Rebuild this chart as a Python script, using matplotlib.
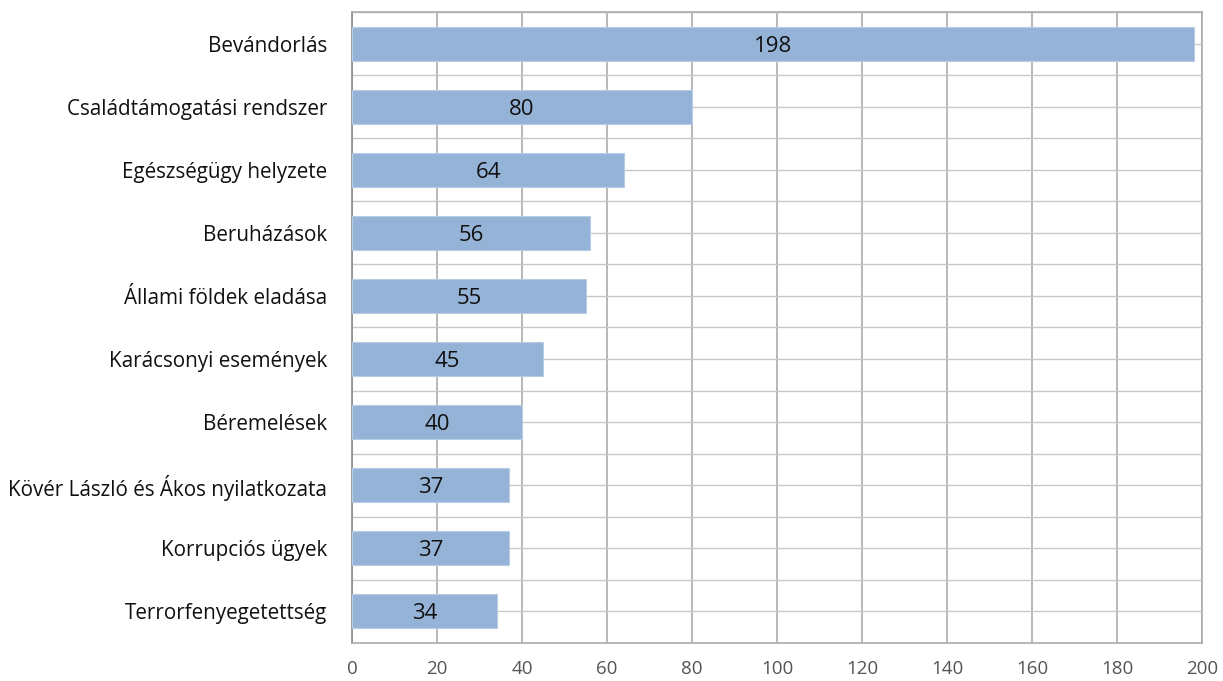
import matplotlib.pyplot as plt
import numpy as np

categories = ['Bevándorlás', 'Családtámogatási rendszer', 'Egészségügy helyzete',
              'Beruházások', 'Állami földek eladása', 'Karácsonyi események',
              'Béremelések', 'Kövér László és Ákos nyilatkozata',
              'Korrupciós ügyek', 'Terrorfenyegetettség']
values = [198, 80, 64, 56, 55, 45, 40, 37, 37, 34]
xticks = [0, 20, 40, 60, 80, 100, 120, 140, 160, 180, 200]

plt.rcParams['font.family'] = ['Open Sans', 'DejaVu Sans']

fig = plt.figure(figsize=(12.23, 6.81), dpi=100)
ax = fig.add_axes([352/1223, 1 - 643/681, (1202-352)/1223, (643-12)/681])

pos = np.arange(len(categories))
bars = ax.barh(pos, values, height=0.54, color='#95B3D7', edgecolor='#B8CCE4',
               linewidth=0.8, zorder=3)
for p, v in zip(pos, values):
    ax.text(v/2, p, str(v), ha='center', va='center_baseline', fontsize=16,
            color='#111111', zorder=4)

ax.set_xlim(0, 200)
ax.set_ylim(len(categories) - 0.5, -0.5)
ax.set_xticks(xticks)
ax.set_yticks(pos)
ax.set_yticklabels(categories, fontsize=14.9, color='#111111')
ax.tick_params(axis='x', labelsize=13.5, labelcolor='#555555', length=0, pad=12)
ax.tick_params(axis='y', length=0, pad=18)

ax.set_yticks(np.arange(-0.5, len(categories), 0.5), minor=True)
ax.tick_params(axis='y', which='minor', length=0)
ax.grid(axis='x', color='#ABABAB', linewidth=1.2, zorder=0)
ax.grid(axis='y', which='minor', color='#C8C8C8', linewidth=1.0, zorder=0)
ax.grid(axis='y', which='major', color='#C8C8C8', linewidth=1.0, zorder=0)

for s in ax.spines.values():
    s.set_color('#ABABAB')
    s.set_linewidth(1.2)
ax.spines['left'].set_color('#8C8C8C')

fig.savefig('out.png', dpi=100)
